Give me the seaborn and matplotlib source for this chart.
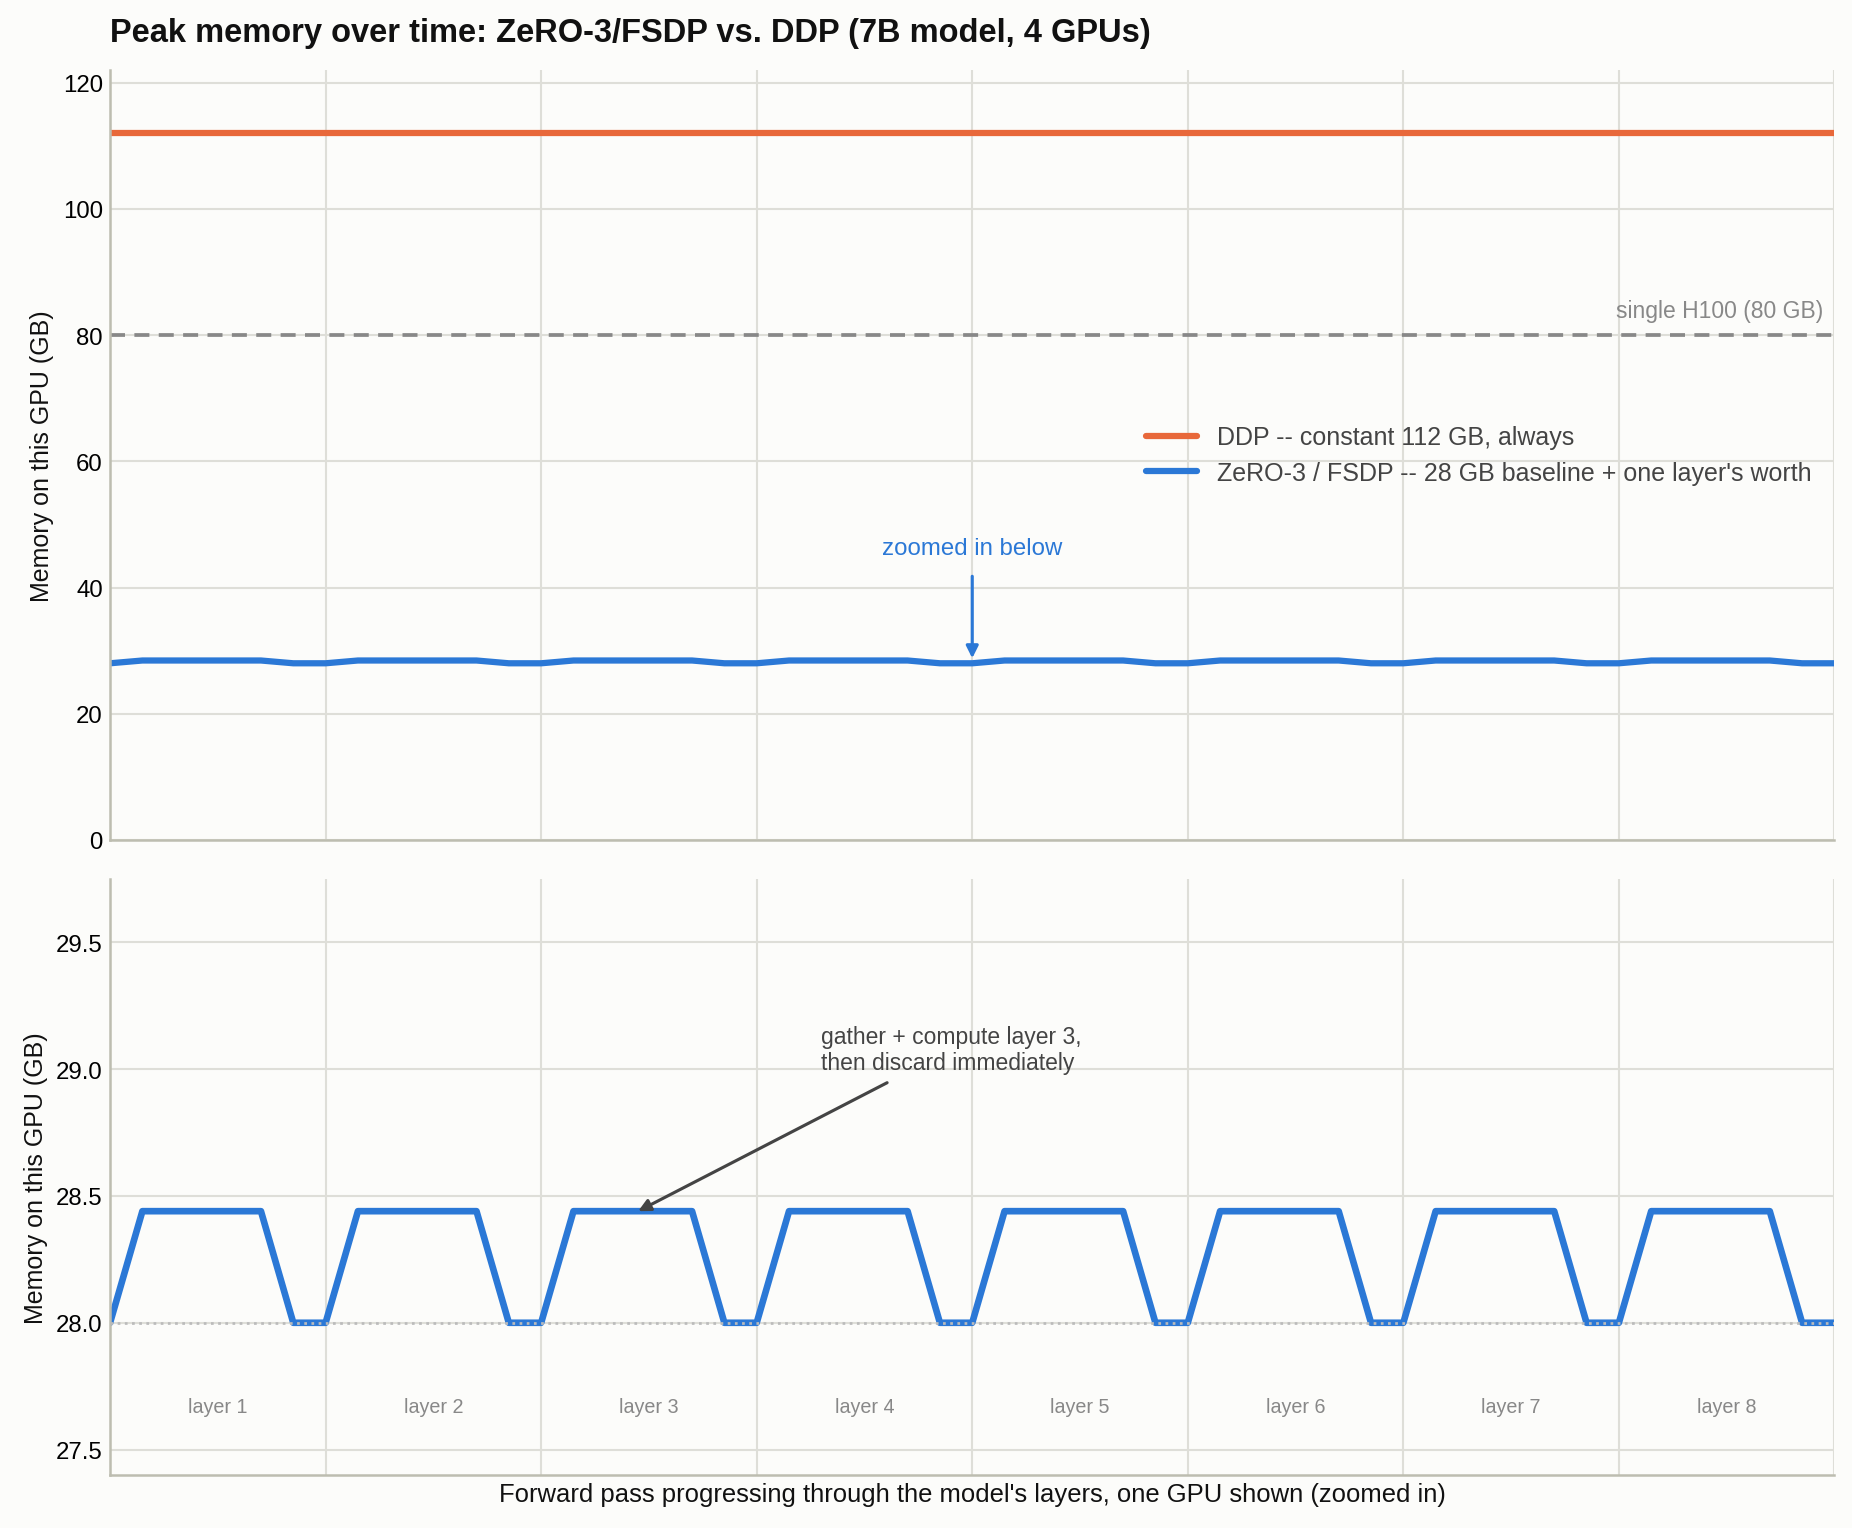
import matplotlib
matplotlib.use("Agg")
import matplotlib.pyplot as plt
import numpy as np
import pandas as pd
import seaborn as sns

# per-layer memory profile (fraction of layer, GB)
layer_offsets = [0.0, 0.15, 0.70, 0.85]
layer_memory = [28.0, 28.44, 28.44, 28.0]
n_layers = 8
layer_names = [f"layer {i}" for i in range(1, n_layers + 1)]

ddp_memory = 112
h100_limit = 80
baseline = 28.0

BG = "#FCFCFA"
ORANGE = "#E8683A"
BLUE = "#2B78D6"
GRID = "#DEDED8"
SPINE = "#BDBDB0"
INK = "#111111"

steps, mem = [], []
for i in range(n_layers):
    for off, m in zip(layer_offsets, layer_memory):
        steps.append(i + off)
        mem.append(m)
steps.append(n_layers)
mem.append(baseline)
zero_df = pd.DataFrame({"step": steps, "memory": mem})
ddp_df = pd.DataFrame({"step": [0, n_layers], "memory": [ddp_memory, ddp_memory]})

sns.set_theme(style="whitegrid")
plt.rcParams["font.family"] = ["Liberation Sans", "DejaVu Sans"]

fig, (ax1, ax2) = plt.subplots(
    2, 1, figsize=(12.353, 10.193), dpi=150,
    gridspec_kw={"height_ratios": [770, 596], "hspace": 0.057},
)
fig.patch.set_facecolor(BG)
fig.subplots_adjust(left=0.0594, right=0.990, top=0.9536, bottom=0.0347)

for ax in (ax1, ax2):
    ax.set_facecolor(BG)
    ax.grid(True, color=GRID, linewidth=1.0)
    for s in ("top", "right"):
        ax.spines[s].set_visible(False)
    for s in ("left", "bottom"):
        ax.spines[s].set_color(SPINE)
        ax.spines[s].set_linewidth(1.2)

# top panel
sns.lineplot(data=ddp_df, x="step", y="memory", ax=ax1, color=ORANGE, linewidth=3,
             label="DDP -- constant 112 GB, always")
sns.lineplot(data=zero_df, x="step", y="memory", ax=ax1, color=BLUE, linewidth=3,
             label="ZeRO-3 / FSDP -- 28 GB baseline + one layer's worth")
ax1.axhline(h100_limit, color="#888888", linestyle="--", linewidth=1.8, dashes=(4, 2.5))
ax1.text(n_layers - 0.05, h100_limit + 2, "single H100 (80 GB)", ha="right", va="bottom",
         color="#888888", fontsize=11)
ax1.annotate("zoomed in below", xy=(4, 28.8), xytext=(4, 44.5), ha="center", va="bottom",
             color=BLUE, fontsize=11.5,
             arrowprops=dict(arrowstyle="-|>", color=BLUE, lw=1.5, mutation_scale=12,
                             shrinkA=6, shrinkB=0))
ax1.set_ylim(0, 122)
ax1.set_yticks(range(0, 121, 20))
ax1.set_ylabel("Memory on this GPU (GB)", fontsize=12, color=INK)
ax1.set_xlabel("")
ax1.set_title("Peak memory over time: ZeRO-3/FSDP vs. DDP (7B model, 4 GPUs)",
              loc="left", fontsize=15.7, fontweight="bold", pad=14, color=INK)
leg = ax1.legend(loc="center right", bbox_to_anchor=(1.0, 0.5), frameon=False,
                 fontsize=12, handlelength=2.05, labelspacing=0.45)
for t in leg.get_texts():
    t.set_color("#444444")

# bottom panel
sns.lineplot(data=zero_df, x="step", y="memory", ax=ax2, color=BLUE, linewidth=3.2)
ax2.axhline(baseline, color="#BBBBBB", linestyle=":", linewidth=1.3, zorder=5)
for i, name in enumerate(layer_names):
    ax2.text(i + 0.5, 27.67, name, ha="center", va="center", color="#888888", fontsize=9.5)
ax2.annotate("gather + compute layer 3,\nthen discard immediately",
             xy=(2.45, 28.44), xytext=(3.3, 28.98), ha="left", va="bottom",
             color="#444444", fontsize=11,
             arrowprops=dict(arrowstyle="-|>", color="#444444", lw=1.5, mutation_scale=12,
                             shrinkA=4, shrinkB=0))
ax2.set_ylim(27.4, 29.75)
ax2.set_yticks(np.arange(27.5, 29.51, 0.5))
ax2.yaxis.set_major_formatter(matplotlib.ticker.FormatStrFormatter("%.1f"))
ax2.set_ylabel("Memory on this GPU (GB)", fontsize=12, color=INK)

for ax in (ax1, ax2):
    ax.set_xlim(0, n_layers)
    ax.set_xticks(range(n_layers + 1))
    ax.set_xticklabels([])
    ax.tick_params(axis="x", length=0)
    ax.tick_params(axis="y", length=0, labelsize=11.5, colors="black")

ax2.set_xlabel("Forward pass progressing through the model's layers, one GPU shown (zoomed in)",
               fontsize=12.3, color=INK)
ax2.xaxis.set_label_coords(0.5, -0.012)
ax2.xaxis.label.set_verticalalignment("top")

fig.savefig("out.png", dpi=150, facecolor=BG)
